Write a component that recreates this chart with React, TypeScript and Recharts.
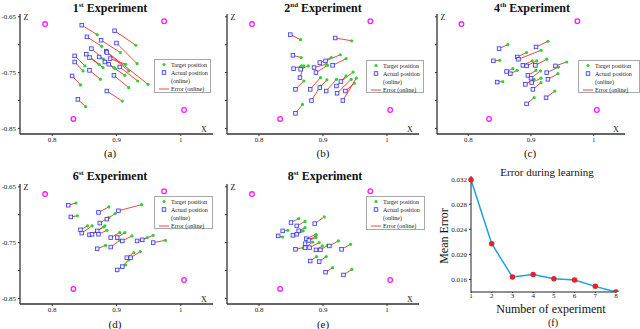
import React from "react";
import { Line, LineChart, ReferenceLine, Scatter, ScatterChart, XAxis, YAxis } from "recharts";

const SERIF = '"Liberation Serif", "Times New Roman", serif';

type Pt = [number, number];

// fixed reference markers (magenta), same in every experiment
const cornerMarks: Pt[] = [[0.789, -0.663], [0.974, -0.658], [0.833, -0.833], [1.005, -0.817]];

const exp1Actual: Pt[] = [
  [0.846, -0.665], [0.897, -0.675], [0.854, -0.686], [0.876, -0.692], [0.9, -0.697], [0.861, -0.707],
  [0.884, -0.712], [0.885, -0.714], [0.853, -0.717], [0.858, -0.723], [0.835, -0.72], [0.873, -0.722],
  [0.89, -0.725], [0.835, -0.731], [0.882, -0.731], [0.888, -0.735], [0.905, -0.74], [0.858, -0.746],
  [0.896, -0.755], [0.831, -0.756], [0.885, -0.783], [0.84, -0.798],
];
const exp1Target: Pt[] = [
  [0.87, -0.682], [0.93, -0.701], [0.877, -0.703], [0.906, -0.714], [0.932, -0.734], [0.88, -0.726],
  [0.949, -0.771], [0.919, -0.747], [0.873, -0.735], [0.879, -0.741], [0.851, -0.738], [0.896, -0.741],
  [0.914, -0.735], [0.848, -0.747], [0.898, -0.743], [0.913, -0.755], [0.933, -0.765], [0.875, -0.762],
  [0.919, -0.777], [0.844, -0.772], [0.909, -0.801], [0.852, -0.811],
];

const exp2Actual: Pt[] = [
  [0.849, -0.682], [0.919, -0.688], [0.853, -0.719], [0.854, -0.743], [0.865, -0.744], [0.895, -0.732],
  [0.904, -0.729], [0.915, -0.737], [0.886, -0.741], [0.889, -0.75], [0.864, -0.759], [0.857, -0.78],
  [0.88, -0.78], [0.895, -0.777], [0.882, -0.8], [0.905, -0.783], [0.921, -0.774], [0.928, -0.766],
  [0.922, -0.787], [0.935, -0.783], [0.931, -0.8], [0.857, -0.823],
];
const exp2Target: Pt[] = [
  [0.865, -0.691], [0.945, -0.693], [0.866, -0.723], [0.866, -0.738], [0.877, -0.738], [0.913, -0.723],
  [0.927, -0.718], [0.936, -0.725], [0.905, -0.735], [0.907, -0.737], [0.87, -0.738], [0.87, -0.765],
  [0.896, -0.759], [0.906, -0.763], [0.896, -0.774], [0.921, -0.762], [0.936, -0.756], [0.947, -0.749],
  [0.944, -0.762], [0.949, -0.769], [0.952, -0.76], [0.868, -0.807],
];

const exp4Actual: Pt[] = [
  [0.849, -0.707], [0.908, -0.704], [0.878, -0.722], [0.88, -0.726], [0.84, -0.729], [0.887, -0.737],
  [0.893, -0.738], [0.907, -0.737], [0.939, -0.738], [0.925, -0.75], [0.861, -0.748], [0.867, -0.752],
  [0.895, -0.755], [0.9, -0.76], [0.927, -0.762], [0.846, -0.767], [0.891, -0.771], [0.901, -0.768],
  [0.903, -0.78], [0.924, -0.795], [0.893, -0.806],
];
const exp4Target: Pt[] = [
  [0.863, -0.7], [0.927, -0.694], [0.893, -0.714], [0.916, -0.71], [0.85, -0.728], [0.902, -0.729],
  [0.909, -0.729], [0.925, -0.726], [0.957, -0.731], [0.944, -0.74], [0.871, -0.743], [0.878, -0.746],
  [0.908, -0.746], [0.915, -0.747], [0.943, -0.752], [0.855, -0.766], [0.905, -0.762], [0.916, -0.76],
  [0.916, -0.768], [0.938, -0.783], [0.905, -0.795],
];

const exp6Actual: Pt[] = [
  [0.825, -0.683], [0.829, -0.704], [0.872, -0.696], [0.903, -0.693], [0.874, -0.715], [0.885, -0.708],
  [0.844, -0.727], [0.846, -0.733], [0.858, -0.736], [0.862, -0.735], [0.87, -0.729], [0.872, -0.735],
  [0.891, -0.741], [0.901, -0.741], [0.909, -0.747], [0.932, -0.747], [0.94, -0.745], [0.957, -0.75],
  [0.87, -0.761], [0.891, -0.758], [0.916, -0.777], [0.922, -0.777], [0.909, -0.793], [0.901, -0.799],
];
const exp6Target: Pt[] = [
  [0.837, -0.679], [0.839, -0.702], [0.888, -0.686], [0.939, -0.682], [0.888, -0.705], [0.898, -0.698],
  [0.855, -0.72], [0.862, -0.72], [0.87, -0.729], [0.88, -0.722], [0.882, -0.72], [0.885, -0.728],
  [0.905, -0.732], [0.913, -0.732], [0.924, -0.738], [0.948, -0.741], [0.957, -0.737], [0.976, -0.746],
  [0.883, -0.755], [0.905, -0.746], [0.927, -0.768], [0.937, -0.766], [0.919, -0.781], [0.914, -0.79],
];

const exp8Actual: Pt[] = [
  [0.85, -0.714], [0.859, -0.72], [0.887, -0.716], [0.837, -0.729], [0.862, -0.729], [0.83, -0.738],
  [0.853, -0.737], [0.859, -0.735], [0.874, -0.743], [0.872, -0.752], [0.878, -0.746], [0.857, -0.762],
  [0.872, -0.759], [0.879, -0.759], [0.889, -0.763], [0.896, -0.763], [0.91, -0.756], [0.929, -0.762],
  [0.88, -0.783], [0.894, -0.784], [0.904, -0.803], [0.932, -0.808],
];
const exp8Target: Pt[] = [
  [0.862, -0.707], [0.872, -0.712], [0.902, -0.704], [0.845, -0.728], [0.872, -0.723], [0.837, -0.74],
  [0.866, -0.729], [0.869, -0.729], [0.889, -0.735], [0.889, -0.737], [0.889, -0.741], [0.869, -0.759],
  [0.884, -0.749], [0.894, -0.75], [0.899, -0.756], [0.907, -0.755], [0.924, -0.747], [0.943, -0.753],
  [0.89, -0.775], [0.905, -0.775], [0.915, -0.795], [0.945, -0.798],
];

const experimentNumbers = [1, 2, 3, 4, 5, 6, 7, 8];
const meanError = [0.0319, 0.0217, 0.0164, 0.0168, 0.0161, 0.0159, 0.0149, 0.014];

const xTicks = [0.8, 0.9, 1];
const zTicks = [-0.85, -0.8, -0.75, -0.7, -0.65];
const errTicks = [0.016, 0.02, 0.024, 0.028, 0.032];

const toPts = (arr: Pt[]) => arr.map(([x, y]) => ({ x, y }));

const greenDot = (p: any) => <circle cx={p.cx} cy={p.cy} r={1.6} fill="#2ed12e" />;
const blueSquare = (p: any) => (
  <rect x={p.cx - 1.8} y={p.cy - 1.8} width={3.6} height={3.6} fill="#ececff" stroke="#3434e8" strokeWidth={0.8} />
);
const magentaRing = (p: any) => (
  <circle cx={p.cx} cy={p.cy} r={2.3} fill="none" stroke="#ff1aff" strokeWidth={1.3} />
);

function Txt({ x, y, size, children, bold, anchor = "center", style }: any) {
  const shift = anchor === "center" ? "-50%" : anchor === "end" ? "-100%" : "0";
  return (
    <div
      style={{
        position: "absolute",
        left: x,
        top: y,
        transform: `translate(${shift}, -50%)`,
        fontFamily: SERIF,
        fontSize: size,
        fontWeight: bold ? "bold" : "normal",
        whiteSpace: "nowrap",
        lineHeight: 1,
        color: "#111",
        ...style,
      }}
    >
      {children}
    </div>
  );
}

function PanelLegend({ left, top, width, height }: { left: number; top: number; width: number; height: number }) {
  const rowY = [4.5, 12.5, 20.5, 29];
  return (
    <div
      style={{
        position: "absolute",
        left,
        top,
        width,
        height,
        border: "1px solid #a8a8a8",
        background: "#fff",
        boxSizing: "border-box",
        fontFamily: SERIF,
        fontSize: 6,
        color: "#222",
      }}
    >
      <svg width={14} height={height} style={{ position: "absolute", left: 2, top: 0 }}>
        <circle cx={7} cy={rowY[0]} r={1.6} fill="#2ed12e" />
        <rect x={5.2} y={rowY[1] - 1.8} width={3.6} height={3.6} fill="#ececff" stroke="#3434e8" strokeWidth={0.8} />
        <line x1={2} x2={12} y1={rowY[3]} y2={rowY[3]} stroke="#f03030" strokeWidth={0.9} />
      </svg>
      {["Target position", "Actual position", "(online)", "Error (online)"].map((t, i) => (
        <div key={t} style={{ position: "absolute", left: 16, top: rowY[i] - 4, lineHeight: "8px", whiteSpace: "nowrap" }}>
          {t}
        </div>
      ))}
    </div>
  );
}

function ExperimentPanel({
  left,
  top,
  plotWidth,
  actual,
  target,
  showZLabels,
}: {
  left: number;
  top: number;
  plotWidth: number;
  actual: Pt[];
  target: Pt[];
  showZLabels: boolean;
}) {
  const axisStyle = { stroke: "#333", strokeWidth: 1.3 };
  return (
    <div style={{ position: "absolute", left, top }}>
      <ScatterChart width={20 + plotWidth + 5} height={150} margin={{ top: 14, right: 5, bottom: 0, left: 0 }}>
        <XAxis
          type="number"
          dataKey="x"
          domain={[0.75, 1.05]}
          ticks={xTicks}
          allowDataOverflow
          height={16}
          tickSize={2}
          tickMargin={1}
          axisLine={axisStyle}
          tickLine={{ stroke: "#333" }}
          tick={{ fontSize: 7, fill: "#222", fontFamily: SERIF }}
          tickFormatter={(v: number) => (v === 1 ? "1" : v.toFixed(1))}
        />
        <YAxis
          type="number"
          dataKey="y"
          domain={[-0.86, -0.645]}
          ticks={zTicks}
          allowDataOverflow
          width={20}
          tickSize={2}
          axisLine={axisStyle}
          tickLine={{ stroke: "#333" }}
          tick={{ fontSize: 7, fill: "#222", fontFamily: SERIF }}
          tickFormatter={(v: number) => {
            const k = Math.round(v * 100);
            return showZLabels && (k === -85 || k === -75 || k === -65) ? v.toFixed(2) : "";
          }}
        />
        {actual.map(([ax, ay], i) => (
          <ReferenceLine
            key={i}
            segment={[{ x: ax, y: ay }, { x: target[i][0], y: target[i][1] }]}
            stroke="#f03030"
            strokeWidth={0.9}
          />
        ))}
        <Scatter data={toPts(cornerMarks)} shape={magentaRing} isAnimationActive={false} />
        <Scatter data={toPts(target)} shape={greenDot} isAnimationActive={false} />
        <Scatter data={toPts(actual)} shape={blueSquare} isAnimationActive={false} />
      </ScatterChart>
      <Txt x={26} y={18} size={8}>Z</Txt>
      <Txt x={20 + plotWidth - 9} y={130} size={8}>X</Txt>
    </div>
  );
}

function ErrorPanel() {
  const data = experimentNumbers.map((n, i) => ({ n, err: meanError[i] }));
  return (
    <div style={{ position: "absolute", left: 440, top: 160 }}>
      <LineChart width={180} height={144} data={data} margin={{ top: 16, right: 4, bottom: 0, left: 0 }}>
        <XAxis
          type="number"
          dataKey="n"
          domain={[1, 8]}
          ticks={experimentNumbers}
          height={12}
          tickSize={1}
          tickMargin={0}
          axisLine={{ stroke: "#222" }}
          tickLine={{ stroke: "#222" }}
          tick={{ fontSize: 7, fill: "#222", fontFamily: SERIF }}
        />
        <XAxis xAxisId="top" orientation="top" type="number" domain={[1, 8]} height={0} tick={false} axisLine={{ stroke: "#222" }} />
        <YAxis
          type="number"
          domain={[0.014, 0.0325]}
          ticks={errTicks}
          allowDataOverflow
          width={31}
          tickSize={2}
          axisLine={{ stroke: "#222" }}
          tickLine={{ stroke: "#222" }}
          tick={{ fontSize: 7, fill: "#222", fontFamily: SERIF }}
          tickFormatter={(v: number) => v.toFixed(3)}
        />
        <YAxis yAxisId="right" orientation="right" type="number" domain={[0.014, 0.0325]} width={0} tick={false} axisLine={{ stroke: "#222" }} />
        <Line
          dataKey="err"
          stroke="#1ea0e2"
          strokeWidth={1.5}
          dot={{ r: 2, fill: "#e8202a", stroke: "#e8202a" }}
          isAnimationActive={false}
        />
      </LineChart>
    </div>
  );
}

function Title({ x, y, n, suffix }: { x: number; y: number; n: string; suffix: string }) {
  return (
    <Txt x={x} y={y} size={12} bold>
      {n}
      <sup style={{ fontSize: 7, lineHeight: 0 }}>{suffix}</sup> Experiment
    </Txt>
  );
}

export default function App() {
  return (
    <div style={{ position: "absolute", left: 0, top: 0, width: 640, height: 329, background: "#fff", overflow: "hidden" }}>
      <ExperimentPanel left={0} top={0} plotWidth={193} actual={exp1Actual} target={exp1Target} showZLabels />
      <ExperimentPanel left={207} top={0} plotWidth={192} actual={exp2Actual} target={exp2Target} showZLabels={false} />
      <ExperimentPanel left={417} top={0} plotWidth={188} actual={exp4Actual} target={exp4Target} showZLabels={false} />
      <ExperimentPanel left={0} top={170} plotWidth={193} actual={exp6Actual} target={exp6Target} showZLabels />
      <ExperimentPanel left={207} top={170} plotWidth={192} actual={exp8Actual} target={exp8Target} showZLabels={false} />
      <ErrorPanel />

      <PanelLegend left={154} top={59} width={57} height={34} />
      <PanelLegend left={366} top={60} width={58} height={33} />
      <PanelLegend left={578} top={60} width={62} height={33} />
      <PanelLegend left={154} top={196} width={59} height={33} />
      <PanelLegend left={366} top={196} width={59} height={34} />

      <Title x={110} y={8} n="1" suffix="st" />
      <Title x={323} y={8} n="2" suffix="nd" />
      <Title x={532} y={8} n="4" suffix="th" />
      <Title x={110} y={176} n="6" suffix="st" />
      <Title x={325} y={176} n="8" suffix="st" />

      <Txt x={110} y={153} size={11}>(a)</Txt>
      <Txt x={323} y={153} size={11}>(b)</Txt>
      <Txt x={530} y={153} size={11}>(c)</Txt>
      <Txt x={115} y={324} size={11}>(d)</Txt>
      <Txt x={323} y={324} size={11}>(e)</Txt>

      <Txt x={547} y={172} size={11}>Error during learning</Txt>
      <Txt x={444} y={236} size={12} style={{ transform: "translate(-50%, -50%) rotate(-90deg)" }}>Mean Error</Txt>
      <Txt x={551} y={309} size={12}>Number of experiment</Txt>
      <Txt x={553} y={323} size={10}>(f)</Txt>
    </div>
  );
}
